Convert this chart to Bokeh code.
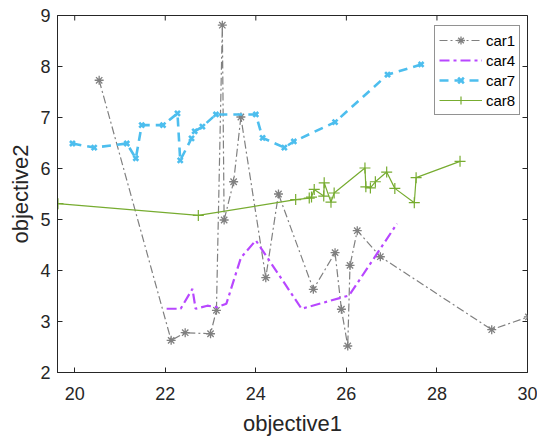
import math
from bokeh.plotting import figure
from bokeh.models import Range1d, FixedTicker, Legend, LegendItem
from bokeh.embed import file_html
from bokeh.resources import INLINE

# ---- data ----
car1_x = [20.54, 22.13, 22.44, 23.00, 23.13, 23.26, 23.30, 23.51, 23.67, 24.22,
          24.50, 25.27, 25.75, 25.89, 26.03, 26.08, 26.24, 26.75, 29.21, 30.02]
car1_y = [7.73, 2.63, 2.78, 2.76, 3.22, 8.81, 4.99, 5.74, 7.01, 3.86,
          5.50, 3.63, 4.35, 3.24, 2.52, 4.10, 4.78, 4.27, 2.84, 3.09]

car4_x = [22.03, 22.34, 22.60, 22.67, 22.93, 23.15, 23.35, 23.67, 24.00, 25.01, 26.06, 27.12]
car4_y = [3.25, 3.25, 3.64, 3.25, 3.31, 3.28, 3.35, 4.25, 4.59, 3.25, 3.51, 4.92]

car7_x = [19.95, 20.43, 21.15, 21.35, 21.48, 21.95, 22.27, 22.33, 22.58, 22.65,
          22.82, 23.12, 24.00, 24.15, 24.63, 24.84, 25.75, 26.91, 27.65]
car7_y = [6.49, 6.41, 6.49, 6.20, 6.85, 6.85, 7.08, 6.16, 6.59, 6.73,
          6.82, 7.06, 7.06, 6.60, 6.41, 6.53, 6.91, 7.84, 8.04]

car8_x = [19.63, 22.73, 24.88, 25.18, 25.23, 25.29, 25.50, 25.51, 25.66, 25.73,
          26.41, 26.43, 26.53, 26.64, 26.89, 27.07, 27.50, 27.54, 28.51]
car8_y = [5.31, 5.08, 5.39, 5.42, 5.44, 5.59, 5.46, 5.72, 5.34, 5.52,
          6.01, 5.64, 5.62, 5.74, 5.93, 5.61, 5.33, 5.82, 6.14]

x_ticks = [20, 22, 24, 26, 28, 30]
y_ticks = [2, 3, 4, 5, 6, 7, 8, 9]
x_min, x_max = 19.62, 30
y_min, y_max = 2, 9
x_label = "objective1"
y_label = "objective2"

FONT = "Liberation Sans"
AXC = "#262626"

p = figure(output_backend="svg", toolbar_location=None,
           frame_width=470, frame_height=357,
           x_range=Range1d(x_min, x_max), y_range=Range1d(y_min, y_max),
           min_border_left=57, min_border_top=15, min_border_right=10, min_border_bottom=64,
           background_fill_color="white", border_fill_color="white")
p.grid.visible = False
p.outline_line_color = AXC
p.outline_line_width = 1

for ax in (p.xaxis[0], p.yaxis[0]):
    ax.axis_line_color = AXC
    ax.major_tick_line_color = AXC
    ax.major_tick_in = 5
    ax.major_tick_out = 0
    ax.minor_tick_line_color = None
    ax.major_label_text_font = FONT
    ax.major_label_text_color = AXC
    ax.major_label_text_font_size = "18px"
    ax.axis_label_text_font = FONT
    ax.axis_label_text_color = AXC
    ax.axis_label_text_font_size = "22px"
    ax.axis_label_text_font_style = "normal"

p.xaxis.ticker = FixedTicker(ticks=x_ticks)
p.yaxis.ticker = FixedTicker(ticks=y_ticks)
p.xaxis.axis_label = x_label
p.yaxis.axis_label = y_label
p.xaxis.major_label_standoff = 14
p.yaxis.major_label_standoff = 7
p.xaxis.axis_label_standoff = 8
p.yaxis.axis_label_standoff = 4

# inward tick marks on the top and right frame edges (half of each dash is clipped)
p.scatter(x_ticks, [y_max] * len(x_ticks), marker="dash", angle=math.pi / 2,
          size=10, line_color=AXC, line_width=1)
p.scatter([x_max] * len(y_ticks), y_ticks, marker="dash",
          size=10, line_color=AXC, line_width=1)

C1 = "#808080"
C4 = "#B847FF"
C7 = "#4DBEEE"
C8 = "#77AC30"

l1 = p.line(car1_x, car1_y, line_color=C1, line_width=1.2, line_dash="8 3 2 3")
m1 = p.scatter(car1_x, car1_y, marker="asterisk", size=9, line_color=C1, line_width=1.3)
l4 = p.line(car4_x, car4_y, line_color=C4, line_width=2.2, line_dash="10 4 3 4")
l7 = p.line(car7_x, car7_y, line_color=C7, line_width=2.6, line_dash="9 6")
m7 = p.scatter(car7_x, car7_y, marker="x", size=7, line_color=C7, line_width=2.6)
l8 = p.line(car8_x, car8_y, line_color=C8, line_width=1.2)
m8 = p.scatter(car8_x, car8_y, marker="cross", size=11, line_color=C8, line_width=1.2)

legend = Legend(items=[
    LegendItem(label="car1", renderers=[l1, m1]),
    LegendItem(label="car4", renderers=[l4]),
    LegendItem(label="car7", renderers=[l7, m7]),
    LegendItem(label="car8", renderers=[l8, m8]),
], location=(377, 257))
legend.label_text_font = FONT
legend.label_text_font_size = "15px"
legend.label_text_color = "black"
legend.glyph_width = 43
legend.glyph_height = 20
legend.label_height = 20
legend.label_standoff = 4
legend.spacing = 0
legend.padding = 4
legend.margin = 0
legend.border_line_color = AXC
legend.border_line_width = 1
legend.background_fill_color = "white"
legend.background_fill_alpha = 1
p.add_layout(legend, "center")

open("out.html", "w").write(file_html(p, INLINE))
